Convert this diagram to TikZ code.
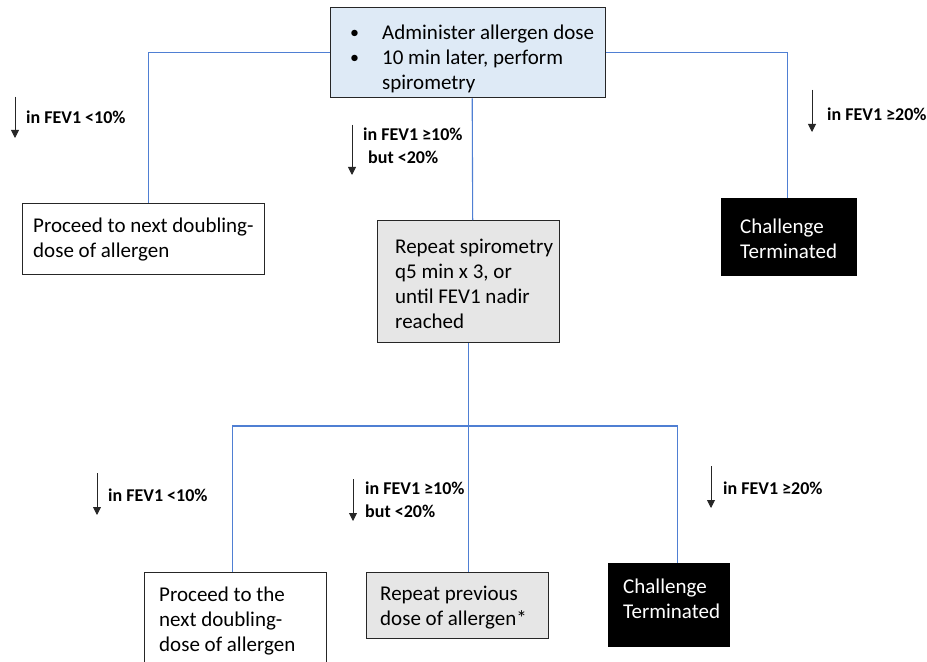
\documentclass[tikz,border=0pt]{standalone}
\usepackage{fontspec}
\setmainfont{Carlito}
\usetikzlibrary{arrows.meta,calc}
\definecolor{connblue}{HTML}{4F7FD3}
\definecolor{topblue}{HTML}{DEEAF6}
\definecolor{midgray}{HTML}{E6E6E6}
\definecolor{boxline}{HTML}{262626}
\newcommand{\mybul}{\makebox[32bp][l]{\raisebox{1bp}{\fontsize{18bp}{18bp}\selectfont\textbullet}}}
\begin{document}
\begin{tikzpicture}[x=1bp,y=-1bp,
  box/.style={draw=boxline, line width=1.4bp, inner sep=0pt, anchor=north west},
  conn/.style={draw=connblue, line width=1.1bp},
  txt/.style={anchor=west, align=left, inner sep=0pt, font=\fontsize{21bp}{25bp}\selectfont},
  lbl/.style={anchor=west, align=left, inner sep=0pt, font=\fontsize{18bp}{23bp}\selectfont\bfseries},
  darr/.style={-{Triangle[length=8bp,width=8bp]}, line width=0.9bp, draw=black!85, fill=black}]
\useasboundingbox (0,0) rectangle (927,662);
\clip (0,0) rectangle (927,662);
% boxes
\node[box, fill=topblue, minimum width=275bp, minimum height=90bp] (top) at (330,7) {};
\node[box, fill=white, minimum width=242bp, minimum height=71bp] (b1) at (22,203) {};
\node[box, fill=midgray, minimum width=182bp, minimum height=122bp] (mid) at (377,220) {};
\node[box, fill=black, draw=black, minimum width=135bp, minimum height=77bp] (b2) at (721,198) {};
\node[box, fill=white, minimum width=182bp, minimum height=120bp] (b3) at (144,572) {};
\node[box, fill=midgray, minimum width=182bp, minimum height=66bp] (b4) at (366,572) {};
\node[box, fill=black, draw=black, minimum width=121bp, minimum height=83bp] (b5) at (608,563) {};
% connectors
\draw[conn] (top.west) -| ($(b1.north)+(5,0)$);
\draw[conn] (top.east) -| ($(b2.north)+(-2,0)$);
\draw[conn] ($(top.south)+(4,0)$) -- ($(mid.north)+(4,0)$);
\coordinate (j) at (mid.south |- 0,426);
\draw[conn] (mid.south) -- (mid.south |- b4.north);
\draw[conn] (j) -| ($(b3.north)+(-3,0)$);
\draw[conn] (j) -| ($(b5.north)+(8.5,0)$);
% box texts
\node[txt] (ttop) at (350,59) {\mybul Administer allergen dose\\\mybul 10 min later, perform\\\hspace*{32bp}spirometry};
\node[txt] (tb1) at (33,240) {Proceed to next doubling-\\dose of allergen};
\node[txt] (tmid) at (395,284) {Repeat spirometry\\q5 min x 3, or\\until FEV1 nadir\\reached};
\node[txt, text=white] (tb2) at (740,239) {Challenge\\Terminated};
\node[txt] (tb3) at (159,621) {Proceed to the\\next doubling-\\dose of allergen};
\node[txt] (tb4) at (380,608) {Repeat previous\\dose of allergen*};
\node[txt, text=white] (tb5) at (623,599) {Challenge\\Terminated};
% decision arrows
\coordinate (a1s) at (15,97);  \coordinate (a1e) at (15,138);
\coordinate (a2s) at (352,125); \coordinate (a2e) at (352,175);
\coordinate (a3s) at (812,90); \coordinate (a3e) at (812,132);
\coordinate (a4s) at (97,473); \coordinate (a4e) at (97,515);
\coordinate (a5s) at (353,479); \coordinate (a5e) at (353,521);
\coordinate (a6s) at (711,466); \coordinate (a6e) at (711,508);
\draw[darr] (a1s) -- (a1e);
\draw[darr] (a2s) -- (a2e);
\draw[darr] (a3s) -- (a3e);
\draw[darr] (a4s) -- (a4e);
\draw[darr] (a5s) -- (a5e);
\draw[darr] (a6s) -- (a6e);
% labels
\node[lbl] (l1) at (26,117) {in FEV1 <10\%};
\node[lbl] (l2) at (363,146) {in FEV1 ≥10\%\\\hspace*{5bp}but <20\%};
\node[lbl] (l3) at (827,114) {in FEV1 ≥20\%};
\node[lbl] (l4) at (108,495) {in FEV1 <10\%};
\node[lbl] (l5) at (365,500) {in FEV1 ≥10\%\\but <20\%};
\node[lbl] (l6) at (723,488) {in FEV1 ≥20\%};
\end{tikzpicture}
\end{document}
